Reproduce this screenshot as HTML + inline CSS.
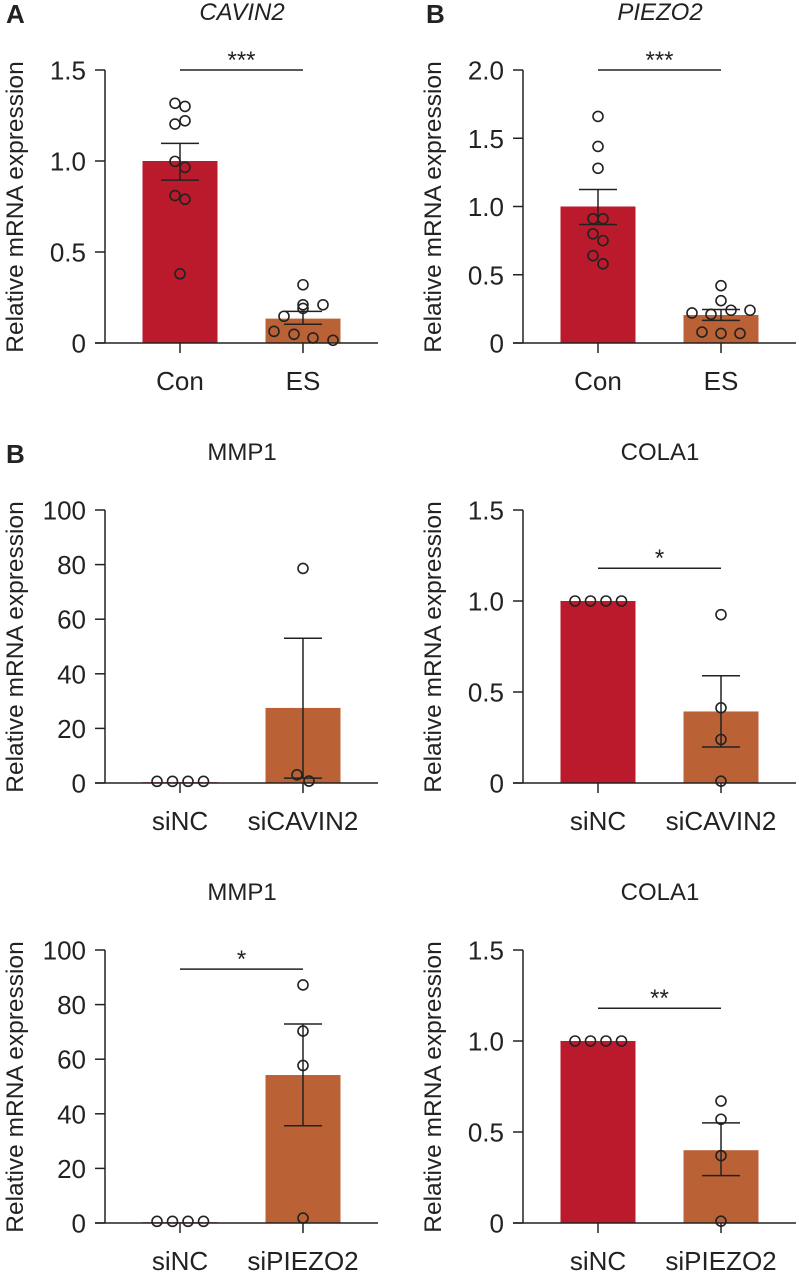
<!DOCTYPE html>
<html><head><meta charset="utf-8"><style>
html,body{margin:0;padding:0;background:#fff}
svg{display:block;font-family:"Liberation Sans",Arial,sans-serif}
</style></head><body>
<svg id="fig" width="799" height="1273" viewBox="0 0 799 1273"></svg>
<script>
// ---- data ----
const catsA = ["Con","ES"];
const cavin2Means = [1.0, 0.134];
const cavin2Err = [[0.895,1.097],[0.103,0.174]];
const cavin2Pts0 = [1.317,1.30,1.203,1.221,0.998,0.965,0.81,0.79,0.38];
const cavin2Pts1 = [0.32,0.21,0.21,0.19,0.147,0.064,0.048,0.028,0.015];
const cavin2Ticks = ["0","0.5","1.0","1.5"];
const cavin2TickVals = [0,0.5,1.0,1.5];

const piezo2Means = [1.0, 0.205];
const piezo2Err = [[0.868,1.125],[0.166,0.245]];
const piezo2Pts0 = [1.66,1.44,1.28,0.91,0.91,0.80,0.75,0.64,0.58];
const piezo2Pts1 = [0.42,0.31,0.22,0.21,0.24,0.24,0.08,0.07,0.07];
const piezo2Ticks = ["0","0.5","1.0","1.5","2.0"];
const piezo2TickVals = [0,0.5,1.0,1.5,2.0];

const catsCav = ["siNC","siCAVIN2"];
const catsPie = ["siNC","siPIEZO2"];
const mmpTicks = ["0","20","40","60","80","100"];
const mmpTickVals = [0,20,40,60,80,100];
const colTicks = ["0","0.5","1.0","1.5"];
const colTickVals = [0,0.5,1.0,1.5];

const mmp1CavMeans = [0.3, 27.5];
const mmp1CavErr = [null,[1.8,53]];
const mmp1CavPts0 = [0.6,0.6,0.6,0.6];
const mmp1CavPts1 = [78.6,3.0,0.7];

const colCavMeans = [1.0, 0.393];
const colCavErr = [null,[0.198,0.589]];
const colCavPts0 = [1,1,1,1];
const colCavPts1 = [0.925,0.413,0.239,0.01];

const mmp1PieMeans = [0.3, 54.2];
const mmp1PieErr = [null,[35.6,72.9]];
const mmp1PiePts0 = [0.6,0.6,0.6,0.6];
const mmp1PiePts1 = [87.2,70.3,57.7,1.8];

const colPieMeans = [1.0, 0.40];
const colPieErr = [null,[0.26,0.55]];
const colPiePts0 = [1,1,1,1];
const colPiePts1 = [0.67,0.57,0.37,0.01];

const NS = "http://www.w3.org/2000/svg";
const svg = document.getElementById("fig");
const COLORS = ["#BB1A2C","#BA6236"];
function mk(tag, attrs, parent){
  const e = document.createElementNS(NS, tag);
  for (const k in attrs) e.setAttribute(k, attrs[k]);
  (parent||svg).appendChild(e);
  return e;
}

function panel(o){
  const g = mk("g", {});
  
  
  const ax = o.ax, top = o.top, zero = top + 273;
  const y = v => zero - (v / o.max) * 273;
  const cx = [ax + 75, ax + 198];
  const t = mk("text", {x: ax + 137, y: top - 50, "text-anchor": "middle", "font-size": 24, fill: "#222", "font-style": o.italic ? "italic" : "normal"}, g);
  t.textContent = o.title;
  
  
  if (o.letter){
    const l = mk("text", {x: o.letterX, y: top - 47, "font-size": 26, "font-weight": "bold", fill: "#222"}, g);
    l.textContent = o.letter;
    
    
  }
  const yl = mk("text", {x: 0, y: 0, transform: `translate(${ax - 82},${top + 137}) rotate(-90)`, "text-anchor": "middle", "font-size": 24.5, fill: "#222"}, g);
  yl.textContent = "Relative mRNA expression";
  
  
  for (let i = 0; i < 2; i++){
    const b = mk("rect", {x: cx[i] - 37.5, y: y(o.means[i]), width: 75, height: zero - y(o.means[i]), fill: COLORS[i]}, g);
    
    
  }
  mk("line", {x1: ax, y1: top, x2: ax, y2: zero, stroke: "#222", "stroke-width": 1.5}, g);
  mk("line", {x1: ax - 10, y1: zero, x2: ax + 273, y2: zero, stroke: "#222", "stroke-width": 1.5}, g);
  o.tickVals.forEach((v, i) => {
    mk("line", {x1: ax - 10, y1: y(v), x2: ax, y2: y(v), stroke: "#222", "stroke-width": 1.5}, g);
    const tl = mk("text", {x: ax - 19, y: y(v) + 9.5, "text-anchor": "end", "font-size": 26, fill: "#222"}, g);
    tl.textContent = o.ticks[i];
    
    
  });
  for (let i = 0; i < 2; i++){
    mk("line", {x1: cx[i], y1: zero, x2: cx[i], y2: zero + 10, stroke: "#222", "stroke-width": 1.5}, g);
    const cl = mk("text", {x: cx[i], y: top + 320, "text-anchor": "middle", "font-size": 26, fill: "#222"}, g);
    cl.textContent = o.cats[i];
    
    
  }
  for (let i = 0; i < 2; i++){
    const e = o.err[i]; if (!e) continue;
    mk("line", {x1: cx[i], y1: y(e[0]), x2: cx[i], y2: y(e[1]), stroke: "#222", "stroke-width": 1.5}, g);
    mk("line", {x1: cx[i] - 19, y1: y(e[0]), x2: cx[i] + 19, y2: y(e[0]), stroke: "#222", "stroke-width": 1.5}, g);
    mk("line", {x1: cx[i] - 19, y1: y(e[1]), x2: cx[i] + 19, y2: y(e[1]), stroke: "#222", "stroke-width": 1.5}, g);
  }
  [o.p0, o.p1].forEach((pts, i) => {
    const n = pts.length;
    pts.forEach((v, j) => {
      let dx = 0;
      if (n === 4 && pts.every(q => q === pts[0])) dx = -23 + j * 15.5;
      if (o.jit && o.jit[i]) dx = o.jit[i][j];
      const c = mk("circle", {cx: cx[i] + dx, cy: y(v), r: 5, fill: "none", stroke: "#222", "stroke-width": 1.6}, g);
      
      
    });
  });
  if (o.sig){
    const sy = y(o.sigVal);
    mk("line", {x1: cx[0], y1: sy, x2: cx[1], y2: sy, stroke: "#222", "stroke-width": 1.5}, g);
    const s = mk("text", {x: (cx[0] + cx[1]) / 2, y: sy - 2, "text-anchor": "middle", "font-size": 24, fill: "#222"}, g);
    s.textContent = o.sig;
    
    
  }
}

panel({name:"panel-a-cavin2", ax:105, top:70, max:1.5, title:"CAVIN2", italic:true, letter:"A", letterX:6,
  cats:catsA, means:cavin2Means, err:cavin2Err, p0:cavin2Pts0, p1:cavin2Pts1, ticks:cavin2Ticks, tickVals:cavin2TickVals,
  sig:"***", sigVal:1.5,
  jit:[[-5,5,-5,5,-5,5,-5,5,0],[0,0,20,0,-19,-29,-9,10,30]]});
panel({name:"panel-b-piezo2", ax:523, top:70, max:2.0, title:"PIEZO2", italic:true, letter:"B", letterX:426,
  cats:catsA, means:piezo2Means, err:piezo2Err, p0:piezo2Pts0, p1:piezo2Pts1, ticks:piezo2Ticks, tickVals:piezo2TickVals,
  sig:"***", sigVal:2.0,
  jit:[[0,0,0,-5,5,-5,5,-5,5],[0,0,-29,-10,10,29,-19,0,19]]});
panel({name:"panel-mmp1-sicavin2", ax:105, top:510, max:100, title:"MMP1", letter:"B", letterX:6,
  cats:catsCav, means:mmp1CavMeans, err:mmp1CavErr, p0:mmp1CavPts0, p1:mmp1CavPts1, ticks:mmpTicks, tickVals:mmpTickVals,
  jit:[null,[0,-6,6]]});
panel({name:"panel-cola1-sicavin2", ax:523, top:510, max:1.5, title:"COLA1",
  cats:catsCav, means:colCavMeans, err:colCavErr, p0:colCavPts0, p1:colCavPts1, ticks:colTicks, tickVals:colTickVals,
  sig:"*", sigVal:1.18});
panel({name:"panel-mmp1-sipiezo2", ax:105, top:950, max:100, title:"MMP1",
  cats:catsPie, means:mmp1PieMeans, err:mmp1PieErr, p0:mmp1PiePts0, p1:mmp1PiePts1, ticks:mmpTicks, tickVals:mmpTickVals,
  sig:"*", sigVal:93});
panel({name:"panel-cola1-sipiezo2", ax:523, top:950, max:1.5, title:"COLA1",
  cats:catsPie, means:colPieMeans, err:colPieErr, p0:colPiePts0, p1:colPiePts1, ticks:colTicks, tickVals:colTickVals,
  sig:"**", sigVal:1.18});
</script>
</body></html>
